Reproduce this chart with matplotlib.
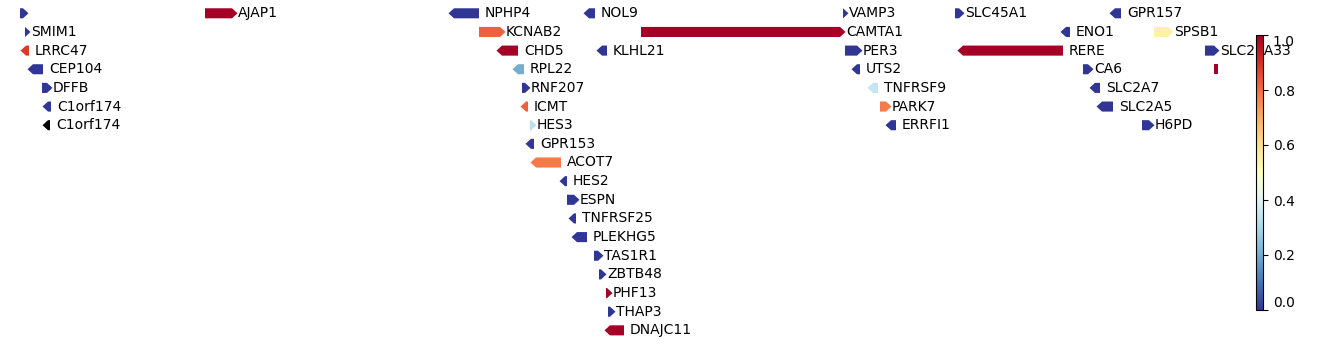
import numpy as np
import matplotlib
matplotlib.use("Agg")
import matplotlib.pyplot as plt
from matplotlib.patches import Polygon

# genes: name, row, body start, body end, strand, value (nan = no value)
genes = ["", "AJAP1", "NPHP4", "NOL9", "VAMP3", "SLC45A1", "GPR157",
         "SMIM1", "KCNAB2", "CAMTA1", "ENO1", "SPSB1",
         "LRRC47", "CHD5", "KLHL21", "PER3", "RERE", "SLC25A33",
         "CEP104", "RPL22", "UTS2", "CA6", "",
         "DFFB", "RNF207", "TNFRSF9", "SLC2A7",
         "C1orf174", "ICMT", "PARK7", "SLC2A5",
         "C1orf174", "HES3", "ERRFI1", "H6PD",
         "GPR153", "ACOT7", "HES2", "ESPN", "TNFRSF25", "PLEKHG5",
         "TAS1R1", "ZBTB48", "PHF13", "THAP3", "DNAJC11"]
rows = [0, 0, 0, 0, 0, 0, 0,
        1, 1, 1, 1, 1,
        2, 2, 2, 2, 2, 2,
        3, 3, 3, 3, 3,
        4, 4, 4, 4,
        5, 5, 5, 5,
        6, 6, 6, 6,
        7, 8, 9, 10, 11, 12,
        13, 14, 15, 16, 17]
starts = [20, 205, 454, 589, 843, 955, 1115,
          25, 479, 641, 1066, 1154,
          26, 502, 602, 845, 963, 1205,
          33, 518, 857, 1083, 1214,
          42, 522, 873, 1095,
          48, 526, 880, 1102,
          48, 530, 891, 1142,
          531, 536, 565, 567, 574, 577,
          594, 599, 606, 608, 610]
ends = [23, 232, 479, 595, 843, 959, 1121,
        25, 500, 840, 1070, 1168,
        29, 518, 607, 857, 1063, 1214,
        43, 524, 860, 1088, 1218,
        47, 525, 878, 1100,
        51, 528, 886, 1113,
        50, 531, 896, 1149,
        534, 561, 567, 574, 576, 587,
        598, 601, 607, 610, 624]
strands = [1, 1, -1, -1, 1, 1, -1,
           1, 1, 1, -1, 1,
           -1, -1, -1, 1, -1, 1,
           -1, -1, -1, 1, 0,
           1, 1, -1, -1,
           -1, -1, 1, -1,
           -1, 1, -1, 1,
           -1, -1, -1, 1, -1, -1,
           1, 1, 1, 1, -1]
values = [0.0, 1.0, 0.0, 0.0, 0.0, 0.0, 0.0,
          0.0, 0.82, 1.0, 0.0, 0.55,
          0.88, 1.0, 0.0, 0.0, 1.0, 0.0,
          0.0, 0.2, 0.0, 0.0, 1.0,
          0.0, 0.0, 0.35, 0.0,
          0.0, 0.82, 0.78, 0.0,
          np.nan, 0.33, 0.0, 0.0,
          0.0, 0.78, 0.0, 0.0, 0.0, 0.0,
          0.0, 0.0, 1.0, 0.0, 1.0]

cmap = plt.get_cmap("RdYlBu_r").copy()
cmap.set_bad("black")
norm = plt.Normalize(vmin=0.0, vmax=1.0)

fig = plt.figure(figsize=(13.38, 3.44), dpi=100)
ax = fig.add_axes([0, 0, 1, 1])
ax.set_xlim(0, 1338)
step = 18.65
ax.set_ylim((344 - 13.3) / step, -13.3 / step)
ax.axis("off")

head = 5.5
h = 0.27
for name, r, s, e, st, v in zip(genes, rows, starts, ends, strands, values):
    c = cmap(norm(v)) if not np.isnan(v) else "black"
    if st == 1:
        pts = [(s, r - h), (e, r - h), (e + head, r), (e, r + h), (s, r + h)]
    elif st == -1:
        pts = [(e, r - h), (s, r - h), (s - head, r), (s, r + h), (e, r + h)]
    else:
        pts = [(s, r - h), (e, r - h), (e, r + h), (s, r + h)]
    ax.add_patch(Polygon(pts, closed=True, facecolor=c, edgecolor="none"))
    if name:
        ax.text(e + head + 0.5, r, name, ha="left", va="center", fontsize=10)

cax = fig.add_axes([1255.5 / 1338, 34 / 344, 7.5 / 1338, 275 / 344])
sm = plt.cm.ScalarMappable(norm=norm, cmap=cmap)
cb = fig.colorbar(sm, cax=cax, ticks=[0.0, 0.2, 0.4, 0.6, 0.8, 1.0])
cb.ax.tick_params(labelsize=10)
labs = cb.ax.get_yticklabels()
labs[0].set_va("bottom")
labs[-1].set_va("top")

fig.savefig("out.png", dpi=100)
